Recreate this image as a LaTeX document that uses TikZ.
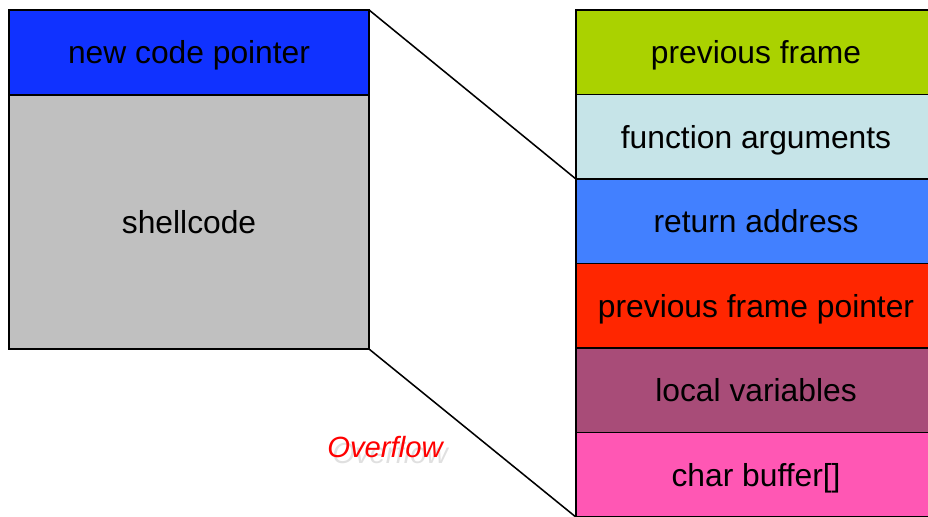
\documentclass[tikz,border=0pt]{standalone}
\usepackage{fontspec}
\setmainfont{Liberation Sans}
\usetikzlibrary{positioning}

\definecolor{codeblue}{RGB}{16,50,255}
\definecolor{shellgray}{RGB}{192,192,192}
\definecolor{framegreen}{RGB}{170,210,0}
\definecolor{argcyan}{RGB}{198,228,232}
\definecolor{retblue}{RGB}{66,128,255}
\definecolor{fpred}{RGB}{255,38,0}
\definecolor{localplum}{RGB}{168,76,120}
\definecolor{bufpink}{RGB}{255,87,180}

\begin{document}
\begin{tikzpicture}[x=0.025cm, y=-0.025cm,
	cell/.style={draw, line width=1.2pt, inner sep=0pt, outer sep=0pt,
		minimum width=9cm, minimum height=2.1125cm,
		text height=20.8pt, text depth=4.7pt,
		font=\fontsize{22.6}{27}\selectfont},
	link/.style={line width=1.1pt}]
	\useasboundingbox (0,0) rectangle (928,516);

		%attack data
	\node[cell, fill=codeblue, minimum height=2.125cm, anchor=north west] (code) at (9,10) {new code pointer};
	\node[cell, fill=shellgray, minimum height=6.35cm, below=0pt of code] (shell) {shellcode};

		%stack frame
	\node[cell, fill=framegreen, anchor=north west] (prev) at (576,10) {previous frame};
	\node[cell, fill=argcyan, below=0pt of prev] (args) {function arguments};
	\node[cell, fill=retblue, below=0pt of args] (ret) {return address};
	\node[cell, fill=fpred, below=0pt of ret] (fp) {previous frame pointer};
	\node[cell, fill=localplum, below=0pt of fp] (locals) {local variables};
	\node[cell, fill=bufpink, below=0pt of locals] (buf) {char buffer[]};

	\draw[link] (code.north east) -- (ret.north west);
	\draw[link] (shell.south east) -- (buf.south west);

		%shadowed label
	\node[text=black!12, font=\fontsize{20.8}{25}\selectfont\itshape] (shadow) at (390,453) {Overflow};
	\node[text=red, font=\fontsize{20.8}{25}\selectfont\itshape] (over) at (385,447) {Overflow};
\end{tikzpicture}
\end{document}
